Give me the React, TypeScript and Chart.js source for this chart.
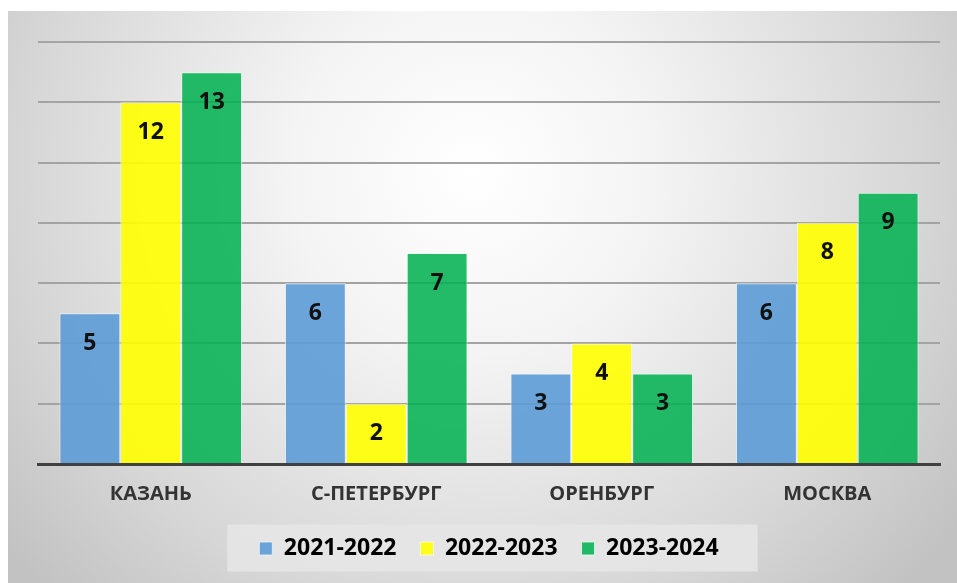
import React, { useEffect, useRef } from "react";
import { Chart, registerables } from "chart.js";

Chart.register(...registerables);

const categories = ["КАЗАНЬ", "С-ПЕТЕРБУРГ", "ОРЕНБУРГ", "МОСКВА"];
const seriesNames = ["2021-2022", "2022-2023", "2023-2024"];
const values2021 = [5, 6, 3, 6];
const values2022 = [12, 2, 4, 8];
const values2023 = [13, 7, 3, 9];
const yMin = 0;
const yMax = 14;
const yStep = 2;

const FONT = "'Open Sans', 'DejaVu Sans', sans-serif";

const bgPlugin = {
  id: "bgPlugin",
  beforeDraw(chart: any) {
    const { ctx, width, height } = chart;
    ctx.save();
    const g = ctx.createRadialGradient(465, 160, 0, 465, 160, 600);
    g.addColorStop(0, "#ffffff");
    g.addColorStop(0.3, "#f4f4f4");
    g.addColorStop(0.75, "#d6d6d6");
    g.addColorStop(1, "#c2c2c2");
    ctx.fillStyle = g;
    ctx.fillRect(0, 0, width, height);
    const lg = chart.legend;
    if (lg && lg.legendHitBoxes && lg.legendHitBoxes.length) {
      const hb = lg.legendHitBoxes;
      const first = hb[0];
      const last = hb[hb.length - 1];
      const cy = first.top + first.height / 2;
      const x0 = first.left - 32;
      const x1 = last.left + last.width + 39;
      ctx.fillStyle = "rgba(230,230,230,0.9)";
      ctx.fillRect(x0, cy - 24, x1 - x0, 47);
    }
    ctx.restore();
  },
};

const labelPlugin = {
  id: "labelPlugin",
  afterDatasetsDraw(chart: any) {
    const { ctx } = chart;
    ctx.save();
    ctx.font = `bold 23px ${FONT}`;
    ctx.fillStyle = "#101010";
    ctx.textAlign = "center";
    ctx.textBaseline = "middle";
    chart.data.datasets.forEach((ds: any, di: number) => {
      const meta = chart.getDatasetMeta(di);
      meta.data.forEach((bar: any, i: number) => {
        ctx.fillText(String(ds.data[i]), bar.x, bar.y + 30);
      });
    });
    ctx.restore();
  },
};

export default function App() {
  const ref = useRef<HTMLCanvasElement | null>(null);
  useEffect(() => {
    if (!ref.current) return;
    const chart = new Chart(ref.current, {
      type: "bar",
      data: {
        labels: categories,
        datasets: [
          {
            label: seriesNames[0],
            data: values2021,
            backgroundColor: "rgba(91,155,213,0.9)",
            borderColor: "rgba(235,245,255,0.8)",
            borderWidth: 1,
          },
          {
            label: seriesNames[1],
            data: values2022,
            backgroundColor: "rgba(255,255,0,0.9)",
            borderColor: "rgba(255,255,240,0.8)",
            borderWidth: 1,
          },
          {
            label: seriesNames[2],
            data: values2023,
            backgroundColor: "rgba(0,176,80,0.86)",
            borderColor: "rgba(230,255,240,0.8)",
            borderWidth: 1,
          },
        ],
      },
      options: {
        animation: false,
        responsive: true,
        maintainAspectRatio: false,
        layout: { padding: { left: 30, right: 17, top: 31, bottom: 13 } },
        datasets: { bar: { categoryPercentage: 0.81, barPercentage: 1.0 } },
        scales: {
          x: {
            grid: { display: false, drawTicks: false },
            border: { display: true, color: "#404040", width: 3 },
            ticks: {
              color: "#333333",
              font: { family: FONT, size: 20, weight: "bold" },
              padding: 18,
            },
            afterFit: (scale: any) => {
              scale.height = 49;
            },
          },
          y: {
            min: yMin,
            max: yMax,
            ticks: { display: false, stepSize: yStep },
            grid: { color: "#a3a3a3", lineWidth: 2, drawTicks: false },
            border: { display: false },
          },
        },
        plugins: {
          legend: {
            position: "bottom",
            labels: {
              boxWidth: 13,
              boxHeight: 13,
              padding: 24,
              color: "#000000",
              font: { family: FONT, size: 23, weight: "bold" },
            },
          },
          tooltip: { enabled: false },
        },
      },
      plugins: [bgPlugin, labelPlugin],
    });
    return () => chart.destroy();
  }, []);
  return (
    <div style={{ position: "fixed", left: 8, top: 11, width: 949, height: 572 }}>
      <canvas ref={ref} />
    </div>
  );
}
